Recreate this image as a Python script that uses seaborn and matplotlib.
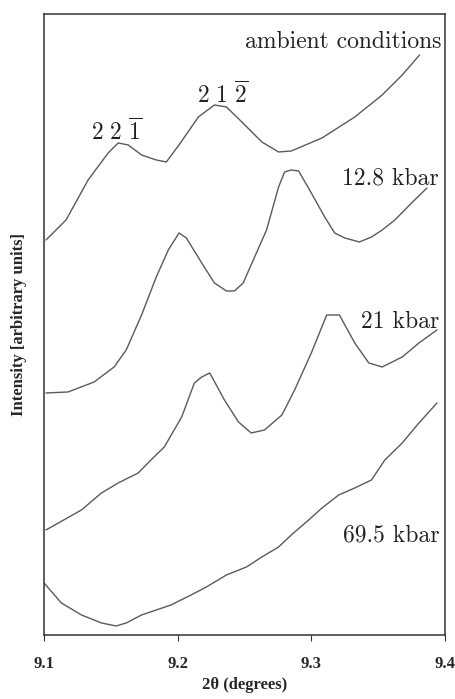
import numpy as np
import pandas as pd
import matplotlib
matplotlib.use("Agg")
import matplotlib.pyplot as plt
import seaborn as sns

# (2theta in degrees, intensity in arbitrary units)
x_ambient = [9.1015, 9.1165, 9.133, 9.148, 9.1555, 9.163, 9.173, 9.184, 9.1915, 9.201,
             9.2155, 9.2275, 9.2365, 9.248, 9.263, 9.2755, 9.285, 9.308, 9.3325, 9.353,
             9.368, 9.381]
y_ambient = [395, 415, 455, 482, 492, 490, 480, 475, 473, 490,
             518, 530, 528, 513, 493, 483, 484, 497, 518, 540,
             560, 580]

x_128 = [9.1015, 9.118, 9.1375, 9.1525, 9.1615, 9.173, 9.184, 9.193, 9.201, 9.2065,
         9.218, 9.2275, 9.2365, 9.2425, 9.249, 9.2665, 9.2755, 9.28, 9.285, 9.2905,
         9.300, 9.31, 9.3175, 9.325, 9.336, 9.345, 9.353, 9.3625, 9.375, 9.3865]
y_128 = [242, 243, 253, 268, 285, 320, 358, 385, 402, 397,
         372, 352, 344, 344, 352, 405, 448, 463, 465, 464,
         442, 418, 402, 397, 393, 398, 405, 415, 432, 447]

x_21 = [9.1015, 9.128, 9.143, 9.1555, 9.1705, 9.180, 9.19, 9.203, 9.2125, 9.218,
        9.224, 9.235, 9.2455, 9.255, 9.265, 9.278, 9.2875, 9.300, 9.3115, 9.321,
        9.3325, 9.343, 9.353, 9.368, 9.3805, 9.394]
y_21 = [105, 125, 142, 152, 162, 175, 188, 218, 252, 258,
        262, 235, 213, 202, 205, 220, 245, 282, 320, 320,
        292, 272, 268, 278, 292, 305]

x_695 = [9.100, 9.113, 9.128, 9.143, 9.154, 9.1615, 9.173, 9.184, 9.195, 9.210,
         9.2215, 9.2365, 9.2515, 9.263, 9.2755, 9.285, 9.298, 9.308, 9.3205, 9.3325,
         9.345, 9.355, 9.368, 9.3805, 9.394]
y_695 = [52, 32, 20, 12, 9, 12, 20, 25, 30, 40,
         48, 60, 68, 78, 88, 100, 115, 127, 140, 147,
         155, 175, 192, 212, 232]

xticks = [9.1, 9.2, 9.3, 9.4]
tick_labels = ["9.1", "9.2", "9.3", "9.4"]

frames = []
for name, xs, ys in [("ambient", x_ambient, y_ambient), ("12.8", x_128, y_128),
                     ("21", x_21, y_21), ("69.5", x_695, y_695)]:
    frames.append(pd.DataFrame({"two_theta": xs, "intensity": ys, "run": name}))
df = pd.concat(frames, ignore_index=True)

sns.set_style("white")
plt.rcParams["mathtext.fontset"] = "cm"

fig = plt.figure(figsize=(4.55, 6.99), dpi=100)
ax = fig.add_axes([0.0967, 0.0916, 0.8813, 0.8884])

sns.lineplot(data=df, x="two_theta", y="intensity", units="run", estimator=None,
             sort=False, color="#5a5a5a", linewidth=1.0, ax=ax)

ax.set_xlim(9.1, 9.4)
ax.set_ylim(0, 621)
ax.set_xticks(xticks)
ax.set_xticklabels(tick_labels, fontfamily="Liberation Serif", fontweight="bold", fontsize=12)
ax.set_yticks([])
ax.tick_params(axis="x", direction="out", length=4, width=0.8, color="#333333",
               bottom=True, pad=11)
for s in ax.spines.values():
    s.set_color("#333333")
    s.set_linewidth(1.1)

ax.set_xlabel("2θ (degrees)", fontfamily="Liberation Serif", fontweight="bold",
              fontsize=12, labelpad=4)
ax.set_ylabel("Intensity [arbitrary units]", fontfamily="Liberation Serif",
              fontweight="bold", fontsize=12, labelpad=12)

cm_text = dict(fontfamily="cmr10", fontsize=17, color="#222222", va="center")
ax.text(9.397, 593, "ambient conditions", ha="right", **cm_text)
ax.text(9.395, 457, "12.8 kbar", ha="right", **cm_text)
ax.text(9.396, 313, "21 kbar", ha="right", **cm_text)
ax.text(9.396, 100, "69.5 kbar", ha="right", **cm_text)
ax.text(9.154, 503, r"$2\ 2\ \overline{1}$", ha="center", va="center", fontsize=17, color="#222222")
ax.text(9.2335, 540, r"$2\ 1\ \overline{2}$", ha="center", va="center", fontsize=17, color="#222222")

fig.savefig("out.png", dpi=100)
